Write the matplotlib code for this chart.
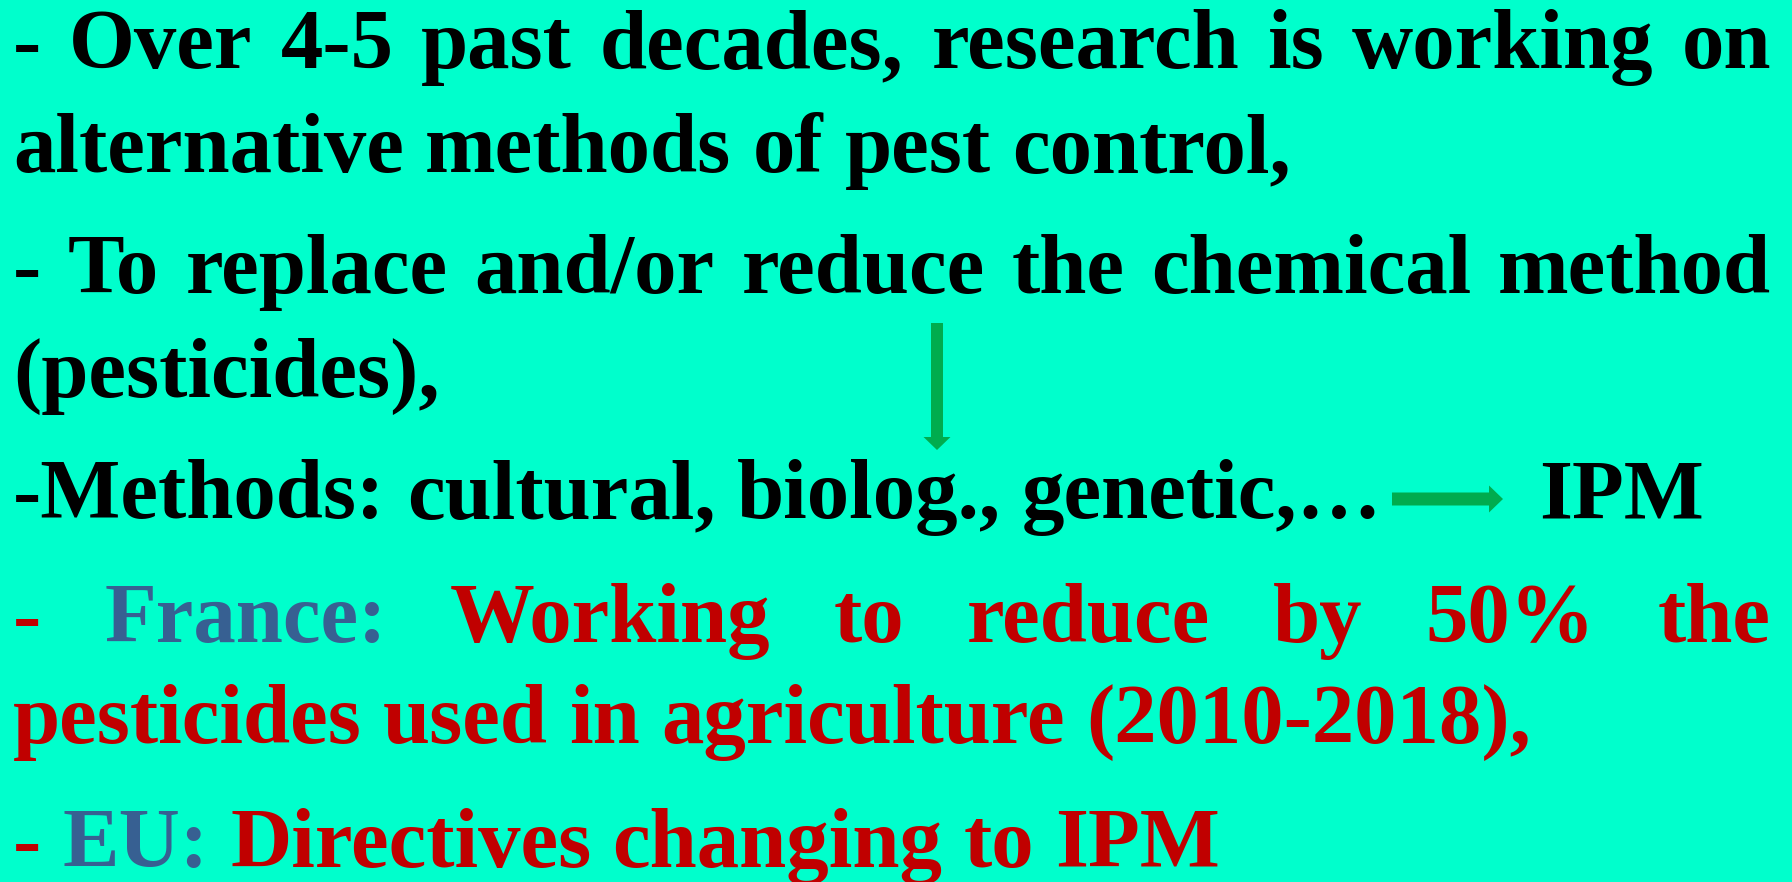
"""
Slide: alternative methods of pest control, rebuilt as a matplotlib figure.
"""

import matplotlib.pyplot as plt

# text content
TEXT_LINES = [
    "- Over 4-5 past decades, research is working on",
    "alternative methods of pest control,",
    "- To replace and/or reduce the chemical method",
    "(pesticides),",
    "-Methods: cultural, biolog., genetic,\u2026",
    "- France: Working to reduce by 50% the",
    "pesticides used in agriculture (2010-2018),",
    "- EU: Directives changing to IPM",
]
ARROW_TARGET = "IPM"
HIGHLIGHT_WORDS = ["France:", "EU:"]
RED_LINES = [5, 6, 7]

# layout (pixel coordinates, y grows downward)
WIDTH, HEIGHT = 1792, 882
BASELINES = [68, 172, 293, 397, 518, 642, 743, 867]
JUSTIFY = [True, False, True, False, False, True, False, False]
LEFT, RIGHT = 13, 1771
TARGET_X = 1539
H_ARROW = (1392, 499, 1503)  # x start, y, x end
V_ARROW = (937, 323, 450)  # x, y start, y end

BG = "#00FFCC"
RED = "#C00000"
BLUE = "#376092"
GREEN = "#00AC4E"
FONT = dict(family="Liberation Serif", weight="bold", size=61, va="baseline", ha="left")


def draw_words(ax, renderer, words, colors, y, justify):
    artists = [ax.text(0, y, w, color=c, **FONT) for w, c in zip(words, colors)]
    widths = [t.get_window_extent(renderer).width for t in artists]
    probe = ax.text(0, 0, "a a", **FONT)
    single = ax.text(0, 0, "aa", **FONT)
    space = probe.get_window_extent(renderer).width - single.get_window_extent(renderer).width
    probe.remove()
    single.remove()
    if justify and len(words) > 1:
        gap = (RIGHT - LEFT - sum(widths)) / (len(words) - 1)
    else:
        gap = space
    x = LEFT
    for t, w in zip(artists, widths):
        t.set_x(x)
        x += w + gap
    return x - gap


fig = plt.figure(figsize=(WIDTH / 100, HEIGHT / 100), dpi=100)
fig.patch.set_facecolor(BG)
ax = fig.add_axes([0, 0, 1, 1])
ax.set_xlim(0, WIDTH)
ax.set_ylim(HEIGHT, 0)
ax.axis("off")
renderer = fig.canvas.get_renderer()

for i, (line, y, just) in enumerate(zip(TEXT_LINES, BASELINES, JUSTIFY)):
    words = line.split(" ")
    base = RED if i in RED_LINES else "black"
    colors = [BLUE if w in HIGHLIGHT_WORDS else base for w in words]
    draw_words(ax, renderer, words, colors, y, just)

ax.text(TARGET_X, BASELINES[4], ARROW_TARGET, color="black", **FONT)

hx0, hy, hx1 = H_ARROW
ax.arrow(hx0, hy, hx1 - hx0, 0, width=13, head_width=27, head_length=14,
         length_includes_head=True, color=GREEN, lw=0)
vx, vy0, vy1 = V_ARROW
ax.arrow(vx, vy0, 0, vy1 - vy0, width=12, head_width=27, head_length=13,
         length_includes_head=True, color=GREEN, lw=0)

fig.savefig("out.png", dpi=100, facecolor=BG)
